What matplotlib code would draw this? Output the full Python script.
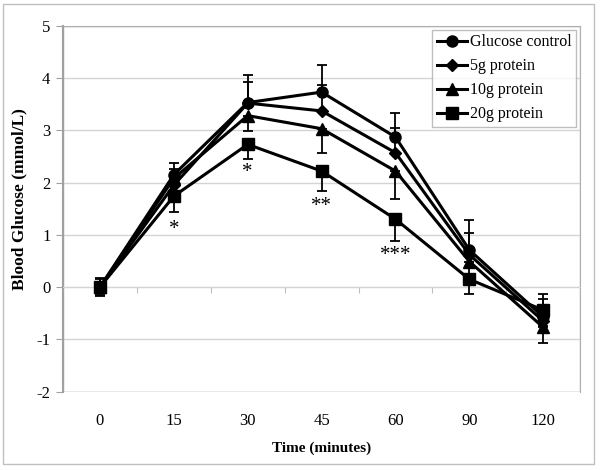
import matplotlib
matplotlib.use('Agg')
import matplotlib.pyplot as plt
from matplotlib.patches import Rectangle
import numpy as np

plt.rcParams['font.family'] = ['Liberation Serif', 'DejaVu Serif']
plt.rcParams['axes.unicode_minus'] = False

# Dados
tempos = ['0', '15', '30', '45', '60', '90', '120']
glicose = [0, 2.15, 3.53, 3.73, 2.87, 0.71, -0.57]
glicose_err = [0.17, 0.23, 0.52, 0.52, 0.47, 0.58, 0.43]
prot5 = [0, 1.95, 3.52, 3.37, 2.57, 0.62, -0.65]
prot5_err = [0.15, 0.30, 0.40, 0.50, 0.47, 0.42, 0.42]
prot10 = [0, 2.08, 3.28, 3.03, 2.22, 0.49, -0.77]
prot10_err = [0.17, 0.25, 0.29, 0.46, 0.53, 0.40, 0.30]
prot20 = [0, 1.74, 2.73, 2.22, 1.30, 0.15, -0.44]
prot20_err = [0.15, 0.31, 0.27, 0.39, 0.42, 0.28, 0.30]

# Asteriscos de significancia
sig_idx = [1, 2, 3, 4]
sig_txt = ['*', '*', '**', '***']
sig_y = [1.10, 2.20, 1.55, 0.60]

# (valores, erro, marcador, legenda, erro para cima?)
series = [
    (glicose, glicose_err, 'o', 'Glucose control', True),
    (prot5, prot5_err, 'D', '5g protein', True),
    (prot10, prot10_err, '^', '10g protein', False),
    (prot20, prot20_err, 's', '20g protein', False),
]
msizes = {'o': 8, 'D': 6, '^': 8.5, 's': 8}

fig = plt.figure(figsize=(6, 4.7), dpi=100)
ax = fig.add_axes([0.105, 0.1666, 0.862, 0.7787])

x = np.arange(len(tempos))
handles = []
labels = []
for vals, errs, mk, lab, up in series:
    zeros = np.zeros(len(errs))
    yerr = [zeros, errs] if up else [errs, zeros]
    c = ax.errorbar(x, vals, yerr=yerr, color='black', marker=mk, markersize=msizes[mk],
                    linewidth=2.2, elinewidth=1.3, capsize=3.5, capthick=1.3, zorder=3)
    handles.append(c.lines[0])
    labels.append(lab)

for i, t, yy in zip(sig_idx, sig_txt, sig_y):
    ax.text(x[i], yy, t, ha='center', va='center', fontsize=15)

ax.set_xlim(-0.5, len(tempos) - 0.5)
ax.set_ylim(-2, 5)
ax.set_yticks(range(-2, 6))
ax.yaxis.grid(True, color='#d4d4d4', linewidth=1)
ax.set_axisbelow(True)
ax.tick_params(axis='y', length=5, color='#a0a0a0', labelsize=12, pad=4)

# eixo x cruzando em y=0, com marcas entre categorias
ax.spines['bottom'].set_position(('data', 0))
ax.spines['bottom'].set_color('#d4d4d4')
ax.set_xticks(np.arange(0.5, len(tempos) - 0.5))
ax.set_xticklabels([])
ax.tick_params(axis='x', length=4, color='#c0c0c0', direction='out')
ax.spines['left'].set_color('#a0a0a0')
ax.spines['left'].set_linewidth(1.5)
for s in ['top', 'right']:
    ax.spines[s].set_color('#b0b0b0')
ax.add_patch(Rectangle((0, 0), 1, 1, transform=ax.transAxes, fill=False,
                       edgecolor='#b0b0b0', linewidth=1, zorder=0.5))

sec = ax.secondary_xaxis(0)
sec.set_xticks(x)
sec.set_xticklabels(tempos)
sec.tick_params(length=0, labelsize=12, pad=15)
sec.spines['bottom'].set_visible(False)
sec.set_xlabel('Time (minutes)', fontsize=11, fontweight='bold', labelpad=9)

ax.set_ylabel('Blood Glucose (mmol/L)', fontsize=12.5, fontweight='bold')
ax.yaxis.set_label_coords(-0.085, 0.527)
ax.yaxis.label.set_va('center')

leg = ax.legend(handles, labels, loc='upper right', fontsize=11.5, frameon=True, fancybox=False,
                edgecolor='#b0b0b0', borderaxespad=0.25, handlelength=1.9,
                handletextpad=0.15, labelspacing=0.5, borderpad=0.3)
leg.get_frame().set_linewidth(1)

fig.patches.append(Rectangle((0.005, 0.0128), 0.985, 0.979, transform=fig.transFigure,
                             fill=False, edgecolor='#c0c0c0', linewidth=1))

plt.savefig('out.png', dpi=100)
plt.close()
